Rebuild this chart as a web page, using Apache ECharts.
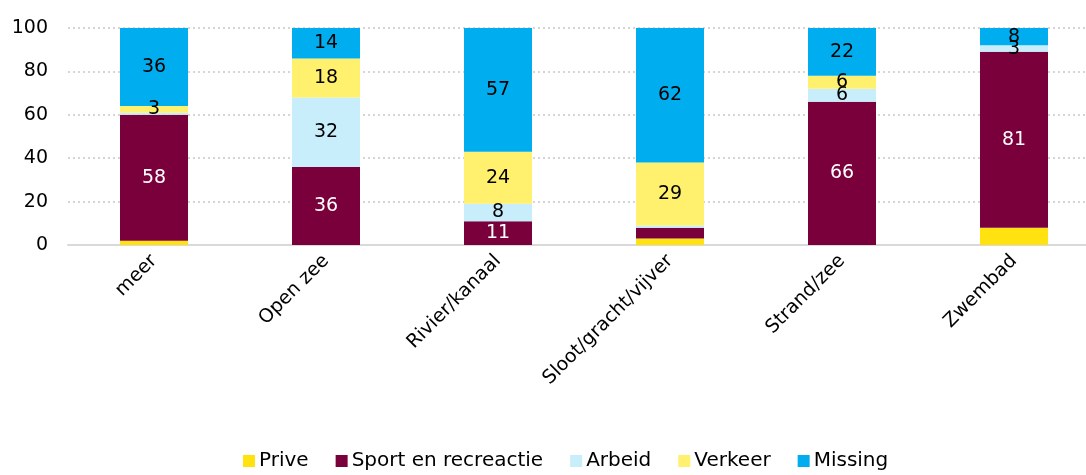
<!DOCTYPE html>
<html>
<head>
<meta charset="utf-8">
<script src="https://cdn.jsdelivr.net/npm/echarts@6/dist/echarts.min.js"></script>
<style>
  html, body { margin: 0; padding: 0; background: #fff; }
  #chart { width: 1086px; height: 475px; }
</style>
</head>
<body>
<div id="chart"></div>
<script>
// categories + series values (percent)
const categories = ['meer', 'Open zee', 'Rivier/kanaal', 'Sloot/gracht/vijver', 'Strand/zee', 'Zwembad']
const prive = [2, 0, 0, 3, 0, 8]
const sport = [58, 36, 11, 5, 66, 81]
const arbeid = [1, 32, 8, 1, 6, 3]
const verkeer = [3, 18, 24, 29, 6, 0]
const missing = [36, 14, 57, 62, 22, 8]
const yTicks = [0, 20, 40, 60, 80, 100]

const font = 'DejaVu Sans'

// smallest value that gets a label, per series
function makeSeries(name, data, color, labelColor, minLabel) {
  return {
    name: name,
    type: 'bar',
    stack: 'total',
    barWidth: 68,
    data: data,
    itemStyle: { color: color },
    label: {
      show: true,
      color: labelColor,
      fontFamily: font,
      fontSize: 19,
      formatter: p => (p.value >= minLabel ? p.value : '')
    }
  }
}

const myChart = echarts.init(document.getElementById('chart'))
myChart.setOption({
  animation: false,
  textStyle: { fontFamily: font },
  // plot runs a bit past the right edge, like the original
  grid: { left: 68, width: 1032, top: 28, bottom: 230, outerBoundsMode: 'none' },
  legend: {
    bottom: 4,
    left: 243,
    padding: 0,
    itemWidth: 12,
    itemHeight: 12,
    itemGap: 27,
    icon: 'rect',
    textStyle: { fontSize: 20, color: '#000', fontFamily: font, padding: [0, 0, 0, -1] },
    data: ['Prive', 'Sport en recreactie', 'Arbeid', 'Verkeer', 'Missing']
  },
  xAxis: {
    type: 'category',
    data: categories,
    axisTick: { show: false },
    axisLine: { lineStyle: { color: '#d9d9d9', width: 2 } },
    axisLabel: { rotate: 45, fontSize: 19, color: '#000', fontFamily: font, margin: 13 }
  },
  yAxis: {
    type: 'value',
    min: yTicks[0],
    max: yTicks[yTicks.length - 1],
    interval: yTicks[1] - yTicks[0],
    axisLine: { show: false },
    axisTick: { show: false },
    axisLabel: { fontSize: 19, color: '#000', fontFamily: font, margin: 20 },
    splitLine: { lineStyle: { color: '#c8c8c8', type: [2, 3], width: 1.5 } }
  },
  series: [
    makeSeries('Prive', prive, '#ffe20f', '#000', Infinity),
    makeSeries('Sport en recreactie', sport, '#7a003c', '#fff', 6),
    makeSeries('Arbeid', arbeid, '#c8eefb', '#000', 3),
    makeSeries('Verkeer', verkeer, '#fff06e', '#000', 3),
    makeSeries('Missing', missing, '#00aeef', '#000', 3)
  ]
})
</script>
</body>
</html>
